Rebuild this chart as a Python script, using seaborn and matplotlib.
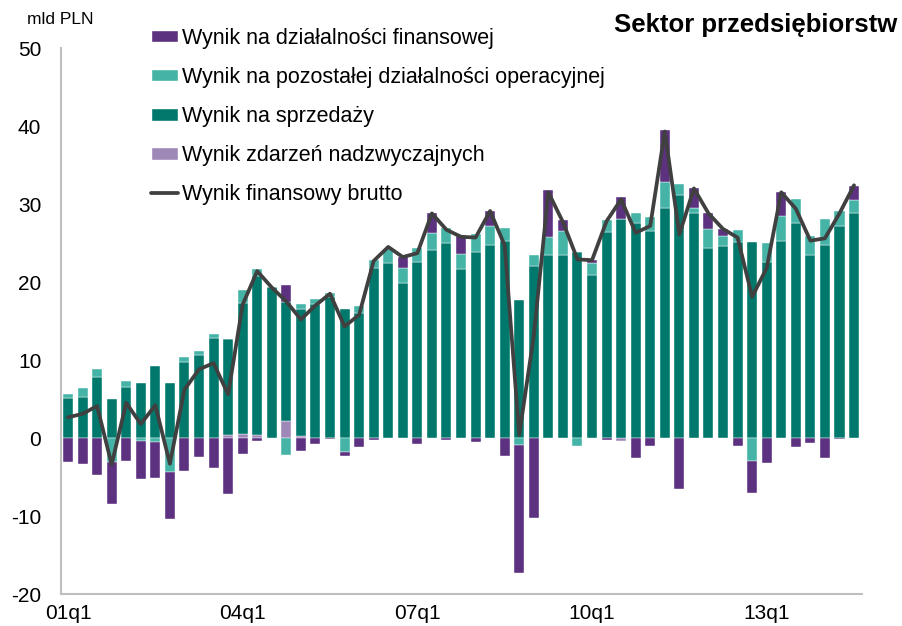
import matplotlib
matplotlib.use("Agg")
import matplotlib.pyplot as plt
from matplotlib.patches import Patch
from matplotlib.lines import Line2D
import numpy as np
import seaborn as sns

quarters = [f"{y:02d}q{q}" for y in range(1, 15) for q in range(1, 5)][:55]

# mld PLN
sales = [5.1, 5.3, 7.8, 5.0, 6.6, 7.05, 9.2, 7.0, 9.8, 10.6, 12.8, 12.35,
         16.8, 20.3, 19.4, 15.3, 16.2, 17.2, 18.1, 16.5, 16.0, 21.8, 22.4, 19.9,
         22.6, 24.1, 25.0, 21.7, 23.9, 24.8, 25.2, 17.7, 22.1, 23.4, 23.5, 23.9,
         20.9, 26.4, 28.1, 27.6, 26.5, 29.5, 31.2, 28.9, 24.4, 24.6, 25.1, 25.1,
         22.6, 25.3, 27.6, 23.4, 24.7, 27.2, 28.85]
other_ops = [0.6, 1.1, 1.1, -3.1, 0.7, -0.35, -0.55, -4.3, 0.65, 0.5, 0.55, 0.0,
             1.7, 0.95, 0.0, -2.15, 0.65, 0.6, 0.5, -1.85, 0.95, 1.05, 1.8, 1.9,
             1.7, 2.2, 1.9, 1.85, 2.2, 2.35, 1.7, -0.85, 1.4, 2.35, 3.1, -1.0,
             1.55, 1.6, 0.0, 1.2, 1.85, 3.3, 1.4, 0.55, 2.35, 1.3, 1.6, -3.0,
             2.35, 3.1, 3.0, 2.55, 3.4, 1.85, 1.7]
financial = [-3.1, -3.3, -4.8, -5.4, -2.9, -4.9, -4.6, -6.1, -4.2, -2.4, -3.85, -7.2,
             -2.05, -0.35, 0.0, 2.15, -1.7, -0.75, -0.1, -0.5, -1.15, -0.2, 0.0, 1.4,
             -0.8, 2.6, -0.25, 2.35, -0.5, 1.9, -2.35, -16.4, -10.3, 6.0, 1.3, 0.0,
             0.35, -0.2, 2.8, -2.5, -1.05, 6.65, -6.5, 2.55, 2.15, 0.95, -1.05, -4.0,
             -3.2, 3.1, -1.2, -0.7, -2.5, -0.15, 1.8]
extraordinary = [0, 0, 0, 0, 0, 0, 0, 0, 0, 0, 0, 0.35,
                 0.5, 0.45, 0, 2.15, 0.3, 0, 0, 0, 0, 0, 0, 0,
                 0, 0, 0, 0, 0, 0, 0, 0, 0, 0, 0, 0,
                 0, 0, -0.35, 0, 0, 0, 0, 0, 0, 0, 0, 0,
                 0, 0, 0, 0, 0, 0, 0]
gross = [2.65, 3.1, 4.1, -3.4, 4.5, 1.8, 4.2, -3.3, 6.2, 8.8, 9.6, 5.6,
         17.1, 21.4, 19.3, 17.5, 15.2, 17.0, 18.5, 14.3, 15.8, 22.7, 24.5, 23.2,
         23.7, 28.8, 26.7, 25.8, 25.7, 29.1, 24.7, 0.4, 13.1, 31.5, 27.7, 22.9,
         22.8, 27.8, 30.6, 26.3, 27.2, 39.3, 26.1, 32.0, 28.8, 26.8, 25.7, 18.1,
         21.8, 31.5, 29.4, 25.3, 25.6, 28.8, 32.4]

labels = ["Wynik na działalności finansowej",
          "Wynik na pozostałej działalności operacyjnej",
          "Wynik na sprzedaży",
          "Wynik zdarzeń nadzwyczajnych",
          "Wynik finansowy brutto"]
tick_labels = ["01q1", "04q1", "07q1", "10q1", "13q1"]
colors = {"fin": "#5C3180", "other": "#45B4A7", "sales": "#00786C",
          "extra": "#9E88B8", "line": "#404040"}

sns.set_style("white")
plt.rcParams["font.family"] = ["Liberation Sans", "DejaVu Sans"]
plt.rcParams["axes.unicode_minus"] = False
plt.rcParams["text.color"] = "black"
plt.rcParams["xtick.labelcolor"] = "black"
plt.rcParams["ytick.labelcolor"] = "black"

fig = plt.figure(figsize=(9.02, 6.26), dpi=100)
ax = fig.add_axes([0.0673, 0.0511, 0.8884, 0.8722])

x = np.arange(len(quarters))
pos_base = np.zeros(len(x))
neg_base = np.zeros(len(x))
# stacking order as in the original: extraordinary, sales, other, financial
for vals, key in [(extraordinary, "extra"), (sales, "sales"),
                  (other_ops, "other"), (financial, "fin")]:
    v = np.array(vals, dtype=float)
    bottom = np.where(v >= 0, pos_base, neg_base)
    ax.bar(x, v, bottom=bottom, width=0.69, color=colors[key],
           edgecolor="white", linewidth=0.3, zorder=2)
    pos_base += np.clip(v, 0, None)
    neg_base += np.clip(v, None, 0)

sns.lineplot(x=x, y=gross, ax=ax, color=colors["line"], linewidth=2.7,
             zorder=3, legend=False)

ax.set_xlim(-0.5, 54.55)
ax.set_ylim(-20, 50)
ax.set_yticks(range(-20, 51, 10))
# tick marks sit between categories, labels under the first quarter of each span
label_pos = [quarters.index(t) for t in tick_labels]
ax.set_xticks([p - 0.5 for p in label_pos])
ax.set_xticklabels([])
ax.set_xticks(label_pos, minor=True)
ax.set_xticklabels(tick_labels, minor=True)
ax.tick_params(axis="x", which="major", direction="out", length=5, width=1.3,
               color="#BFBFBF")
ax.tick_params(axis="x", which="minor", length=0, labelsize=15, pad=7,
               labelcolor="black")
ax.tick_params(axis="y", direction="out", length=5, width=1.3,
               color="#BFBFBF", labelsize=15, labelcolor="black", pad=9)
for side in ["top", "right"]:
    ax.spines[side].set_visible(False)
for side in ["left", "bottom"]:
    ax.spines[side].set_color("#BFBFBF")
    ax.spines[side].set_linewidth(1.5)
ax.set_xlabel("")
ax.set_ylabel("")

handles = [Patch(facecolor=colors["fin"]), Patch(facecolor=colors["other"]),
           Patch(facecolor=colors["sales"]), Patch(facecolor=colors["extra"]),
           Line2D([0], [0], color=colors["line"], linewidth=2.7)]
fig.legend(handles, labels, loc="upper left", bbox_to_anchor=(0.1674, 0.9556),
           frameon=False, fontsize=15.5, handlelength=1.24, handleheight=0.51,
           handletextpad=0.19, labelspacing=0.84, borderpad=0, borderaxespad=0,
           labelcolor="black")

fig.text(0.0296, 0.9617, "mld PLN", fontsize=12.5, va="baseline", ha="left",
         color="black")
fig.text(0.995, 0.9494, "Sektor przedsiębiorstw", fontsize=18.5,
         fontweight="bold", va="baseline", ha="right", color="black")

fig.savefig("out.png", dpi=100)
